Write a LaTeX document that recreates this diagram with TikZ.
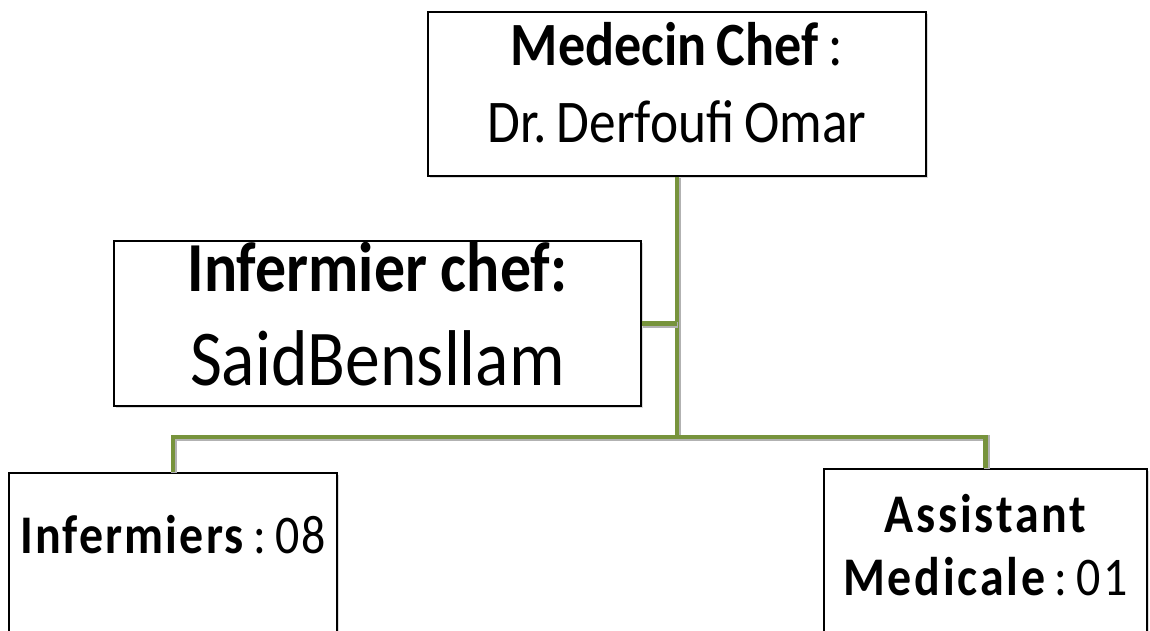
\documentclass[tikz,border=0pt]{standalone}
\usepackage{fontspec}
\setmainfont{Carlito}[FakeStretch=0.88]
\usetikzlibrary{shadows}
\definecolor{olivegreen}{HTML}{77933C}

\begin{document}
\begin{tikzpicture}[x=0.02cm,y=-0.02cm,
  orgbox/.style={draw, line width=1.1pt, fill=white, inner sep=0pt, align=center, anchor=north,
    drop shadow={shadow xshift=1pt, shadow yshift=-1pt, opacity=0.3}},
  link/.style={draw=olivegreen, line width=2.8pt,
    preaction={draw=black!30, line width=3.4pt, transform canvas={xshift=0.6pt,yshift=-0.6pt}}}]

\useasboundingbox (0,0) rectangle (1150,630);
\clip (0,0) rectangle (1150,630);

% boxes (text height = top edge to last baseline)
\node[orgbox, minimum width=9.96cm, text height=2.62cm, text depth=0.66cm, font=\fontsize{35}{44}\selectfont] (chef) at (677,11)
  {{\bfseries Medecin\,Chef}\,:\\{\fontsize{34.5}{44}\selectfont Dr.\,Derfoufi\,Omar}};
\node[orgbox, minimum width=10.54cm, text height=2.9cm, text depth=0.4cm, font=\fontsize{40}{54}\selectfont] (infchef) at (377.5,240)
  {{\bfseries Infermier chef:}\\{\fontsize{45}{54}\selectfont SaidBensllam}};
\node[orgbox, minimum width=6.56cm, text height=1.62cm, text depth=3cm, font=\fontsize{31}{36}\selectfont\addfontfeatures{LetterSpace=4}] (inf) at (173,472)
  {{\bfseries Infermiers}\,:\,08};
\node[orgbox, minimum width=6.46cm, text height=2.54cm, text depth=2cm, font=\fontsize{31}{36}\selectfont\addfontfeatures{LetterSpace=5}] (asst) at (985.5,468)
  {{\bfseries Assistant}\\{\bfseries Medicale}\,:\,01};

% links
\coordinate (hub) at (chef.south |- 0,437);
\draw[link] (chef.south) -- (hub);
\draw[link] (infchef.east) -- (infchef.east -| hub);
\draw[link] (inf.north) |- (hub) -| (asst.north);

\end{tikzpicture}
\end{document}
